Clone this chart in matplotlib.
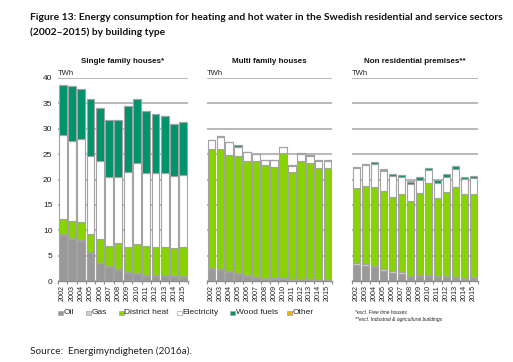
import matplotlib
matplotlib.use("Agg")
import matplotlib.pyplot as plt
from matplotlib.patches import Rectangle
import numpy as np

years = [str(y) for y in range(2002, 2016)]
series = ["Oil", "Gas", "District heat", "Electricity", "Wood fuels", "Other"]
colors = ["#999999", "#cfcfcf", "#88d400", "#ffffff", "#00936c", "#e8b400"]

# Single family houses (TWh)
sf_oil = [9.0, 8.3, 7.9, 5.5, 3.5, 2.8, 2.2, 1.6, 1.4, 1.0, 1.0, 0.9, 0.8, 0.8]
sf_gas = [0.3, 0.2, 0.2, 0.3, 0.1, 0.1, 0.1, 0.1, 0.1, 0.1, 0.1, 0.1, 0.1, 0.2]
sf_dh = [2.9, 3.3, 3.5, 3.5, 4.6, 3.9, 5.2, 5.0, 5.7, 5.8, 5.6, 5.7, 5.7, 5.7]
sf_el = [16.5, 15.8, 16.3, 15.4, 15.5, 13.7, 12.9, 14.7, 16.1, 14.4, 14.5, 14.6, 14.0, 14.2]
sf_wood = [9.9, 10.8, 10.0, 11.2, 10.3, 11.2, 11.4, 13.1, 12.5, 12.1, 11.7, 11.3, 10.3, 10.5]
sf_other = [0] * 14

# Multi family houses (TWh)
mf_oil = [2.4, 2.2, 1.8, 1.3, 1.0, 0.5, 0.4, 0.4, 0.3, 0.2, 0.2, 0.2, 0.1, 0.1]
mf_gas = [0.2, 0.2, 0.2, 0.2, 0.2, 0.2, 0.2, 0.2, 0.2, 0.1, 0.1, 0.1, 0.1, 0.1]
mf_dh = [23.4, 23.6, 22.9, 23.1, 22.5, 22.9, 22.2, 21.8, 24.8, 21.1, 23.4, 23.0, 22.0, 22.0]
mf_el = [1.7, 2.3, 2.4, 1.9, 1.7, 1.4, 1.0, 1.4, 1.1, 1.3, 1.4, 1.4, 1.5, 1.5]
mf_wood = [0.1, 0.2, 0.1, 0.2, 0.1, 0.1, 0.1, 0.1, 0.1, 0.1, 0.1, 0.1, 0.2, 0.2]
mf_other = [0] * 14

# Non residential premises (TWh)
nr_oil = [3.2, 3.0, 2.8, 1.9, 1.6, 1.4, 0.7, 0.9, 0.9, 0.7, 0.8, 0.5, 0.4, 0.6]
nr_gas = [0.4, 0.3, 0.2, 0.4, 0.3, 0.3, 0.2, 0.2, 0.2, 0.2, 0.2, 0.2, 0.2, 0.2]
nr_dh = [14.8, 15.5, 15.6, 15.5, 14.7, 15.4, 14.8, 16.3, 18.3, 15.4, 16.5, 17.8, 16.5, 16.4]
nr_el = [3.8, 4.0, 4.4, 3.8, 4.0, 3.4, 3.4, 2.5, 2.5, 3.1, 3.0, 3.6, 3.0, 3.1]
nr_wood = [0.2, 0.2, 0.4, 0.3, 0.5, 0.4, 0.4, 0.5, 0.3, 0.5, 0.6, 0.6, 0.4, 0.4]
nr_other = [0, 0, 0, 0.2, 0, 0, 0.2, 0, 0, 0, 0, 0, 0, 0]

panels = [
    ("Single family houses*", [sf_oil, sf_gas, sf_dh, sf_el, sf_wood, sf_other]),
    ("Multi family houses", [mf_oil, mf_gas, mf_dh, mf_el, mf_wood, mf_other]),
    ("Non residential premises**", [nr_oil, nr_gas, nr_dh, nr_el, nr_wood, nr_other]),
]

W, H = 513, 362
fig = plt.figure(figsize=(W / 100, H / 100), dpi=100)
fig.patch.set_facecolor("white")

tick_font = "Liberation Sans"
grid_col = "#b3b3b3"
edge_col = "#a3a3a3"

ax_x = [(58, 188), (207, 332), (352, 478)]
y_bot, y_top = 281, 78

for i, (title, data) in enumerate(panels):
    x0, x1 = ax_x[i]
    ax = fig.add_axes([x0 / W, 1 - y_bot / H, (x1 - x0) / W, (y_bot - y_top) / H])
    ax.set_xlim(-0.5, len(years) - 0.5)
    ax.set_ylim(0, 40)
    ax.set_yticks(np.arange(0, 41, 5))
    ax.yaxis.grid(True, color=grid_col, linewidth=1.3)
    ax.set_axisbelow(True)
    x = np.arange(len(years))
    bottom = np.zeros(len(years))
    for vals, c in zip(data, colors):
        v = np.array(vals, dtype=float)
        ax.bar(x, v, bottom=bottom, width=0.86, color=c, edgecolor=edge_col,
               linewidth=0.8, zorder=3)
        bottom += v
    for s in ["top", "right", "left"]:
        ax.spines[s].set_visible(False)
    ax.spines["bottom"].set_color("#8c8c8c")
    ax.spines["bottom"].set_linewidth(1.0)
    ax.set_xticks(x)
    ax.set_xticklabels(years, rotation=90, fontsize=5.2, family=tick_font, color="#222222")
    ax.set_xticks(np.arange(-0.5, len(years), 1), minor=True)
    ax.tick_params(axis="x", which="major", length=0, pad=3)
    ax.tick_params(axis="x", which="minor", length=2.5, color="#8c8c8c", width=0.8)
    if i == 0:
        ax.tick_params(axis="y", length=0, labelsize=6, pad=4)
        for lab in ax.get_yticklabels():
            lab.set_family(tick_font)
            lab.set_color("#222222")
    else:
        ax.tick_params(axis="y", length=0, labelleft=False)
    ax.text(0.0, 1.005, "TWh", transform=ax.transAxes, fontsize=5.5,
            family=tick_font, ha="left", va="bottom", color="#222222")
    ax.set_title(title, fontsize=5.8, fontweight="bold", family=tick_font,
                 pad=10.5, color="#111111")

# Legend
leg_x = [58, 86, 119, 177, 230, 287]
leg_y = 313
for lx, name, c in zip(leg_x, series, colors):
    fig.patches.append(Rectangle(((lx) / W, 1 - (leg_y + 2.2) / H), 4.5 / W, 4.5 / H,
                                 transform=fig.transFigure, facecolor=c,
                                 edgecolor=edge_col, linewidth=0.5))
    fig.text((lx + 5.5) / W, 1 - leg_y / H, name, fontsize=6, family=tick_font,
             va="center", ha="left", color="#222222")

fig.text(355 / W, 1 - 313 / H, "*excl. Free time houses", fontsize=3.6,
         style="italic", family=tick_font, va="center", color="#222222")
fig.text(355 / W, 1 - 319 / H, "**excl. Industrial & agricultural buildings", fontsize=3.6,
         style="italic", family=tick_font, va="center", color="#222222")

fig.text(30 / W, 1 - 18 / H,
         "Figure 13: Energy consumption for heating and hot water in the Swedish residential and service sectors",
         fontsize=7.35, fontweight="bold", family="Lato", va="center", ha="left", color="#111111")
fig.text(30 / W, 1 - 32 / H, "(2002\u20132015) by building type",
         fontsize=7.35, fontweight="bold", family="Lato", va="center", ha="left", color="#111111")
fig.text(30 / W, 1 - 351 / H, "Source:  Energimyndigheten (2016a).", fontsize=7.2,
         family="Lato", va="center", ha="left", color="#222222")

fig.savefig("out.png", dpi=100, facecolor="white")
